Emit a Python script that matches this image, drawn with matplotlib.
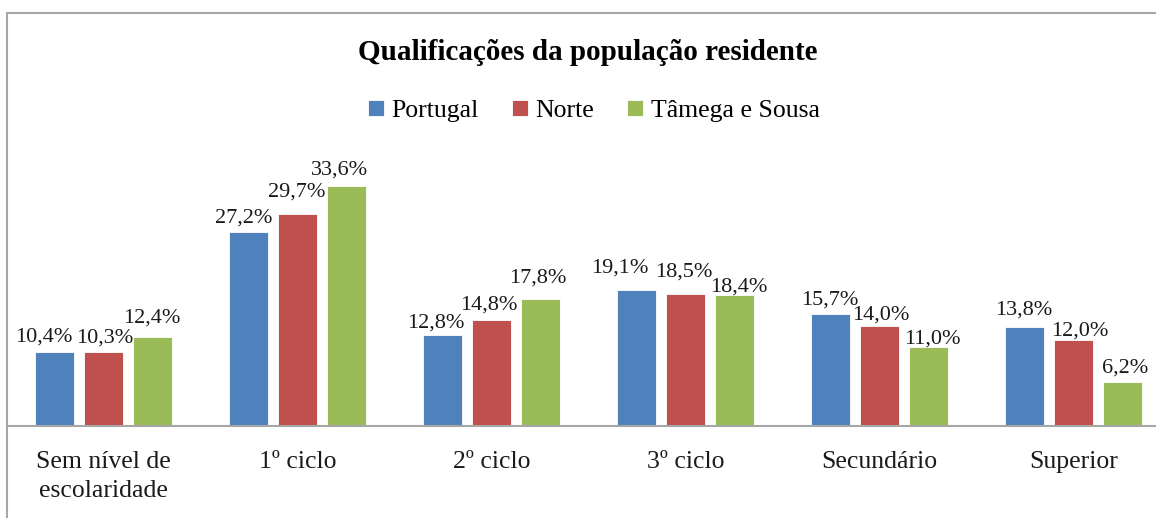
import numpy as np
import matplotlib as mpl
import matplotlib.pyplot as plt
from matplotlib.patches import Rectangle

mpl.rcParams.update({"font.family": "Liberation Serif", "font.size": 16})

categories = ["Sem nível de\nescolaridade", "1º ciclo", "2º ciclo", "3º ciclo",
              "Secundário", "Superior"]
portugal = [10.4, 27.2, 12.8, 19.1, 15.7, 13.8]
norte = [10.3, 29.7, 14.8, 18.5, 14.0, 12.0]
tamega = [12.4, 33.6, 17.8, 18.4, 11.0, 6.2]
series = ["Portugal", "Norte", "Tâmega e Sousa"]

COLORS = ["#4F81BD", "#C0504D", "#9BBB59"]

# label nudges in pixels (dx, gap above bar) -- mimics Excel's overlap dodging
NUDGE = [
    [(-11, 10), (-5, 9), (-7, 7), (-17, 17), (-1, 9), (-1, 12.5)],
    [(1, 10), (-1, 17), (-2.5, 11), (-1.5, 17), (1.5, 6), (6.5, 5)],
    [(-1, 15), (-7, 11), (-2.5, 16), (4.5, 3), (4, 3.5), (2.5, 9)],
]

W, H = 1156, 518
fig = plt.figure(figsize=(W / 100, H / 100), dpi=100)

# outer chart border (runs off the right/bottom edge like the cropped source)
fig.patches.append(Rectangle((7 / W, -0.1), 1.2, 1 - 13 / H + 0.1,
                             transform=fig.transFigure, fill=False,
                             ec="#A6A6A6", lw=1.5))

ax = fig.add_axes([6.5 / W, 1 - 426 / H, 1164 / W, 285.7 / H])
x = np.arange(len(categories))
step, bw = 0.2526, 0.2
for i, (vals, col) in enumerate(zip([portugal, norte, tamega], COLORS)):
    xs = x + (i - 1) * step
    ax.bar(xs, vals, width=bw, color=col, ec="#FFFFFF", lw=0.6,
           label=series[i], zorder=2)
    for j, (xb, v) in enumerate(zip(xs, vals)):
        dx, dy = NUDGE[i][j]
        ax.annotate(f"{v:.1f}%".replace(".", ","), (xb, v), xytext=(dx, dy),
                    textcoords="offset pixels", ha="center", va="baseline",
                    fontsize=16, color="#1A1A1A")

ax.set_xlim(-0.5, 5.5)
ax.set_ylim(0, 40)
ax.axhline(0, color="#A6A6A6", lw=1.5, zorder=3, clip_on=False)
ax.set_yticks([])
ax.set_xticks(x)
ax.set_xticklabels(categories, fontsize=18.5, linespacing=1.4, color="#1A1A1A")
ax.tick_params(axis="x", length=0, pad=18)
for sp in ax.spines.values():
    sp.set_visible(False)

fig.text(0.5 + 10 / W, 1 - 52 / H, "Qualificações da população residente",
         ha="center", va="center", fontsize=21, fontweight="bold")
fig.legend(loc="center", bbox_to_anchor=(0.5 + 16 / W, 1 - 111 / H), ncol=3,
           frameon=False, fontsize=18.5, handlelength=0.6, handleheight=0.6,
           handletextpad=0.3, columnspacing=1.3)

fig.savefig("out.png", dpi=100)
